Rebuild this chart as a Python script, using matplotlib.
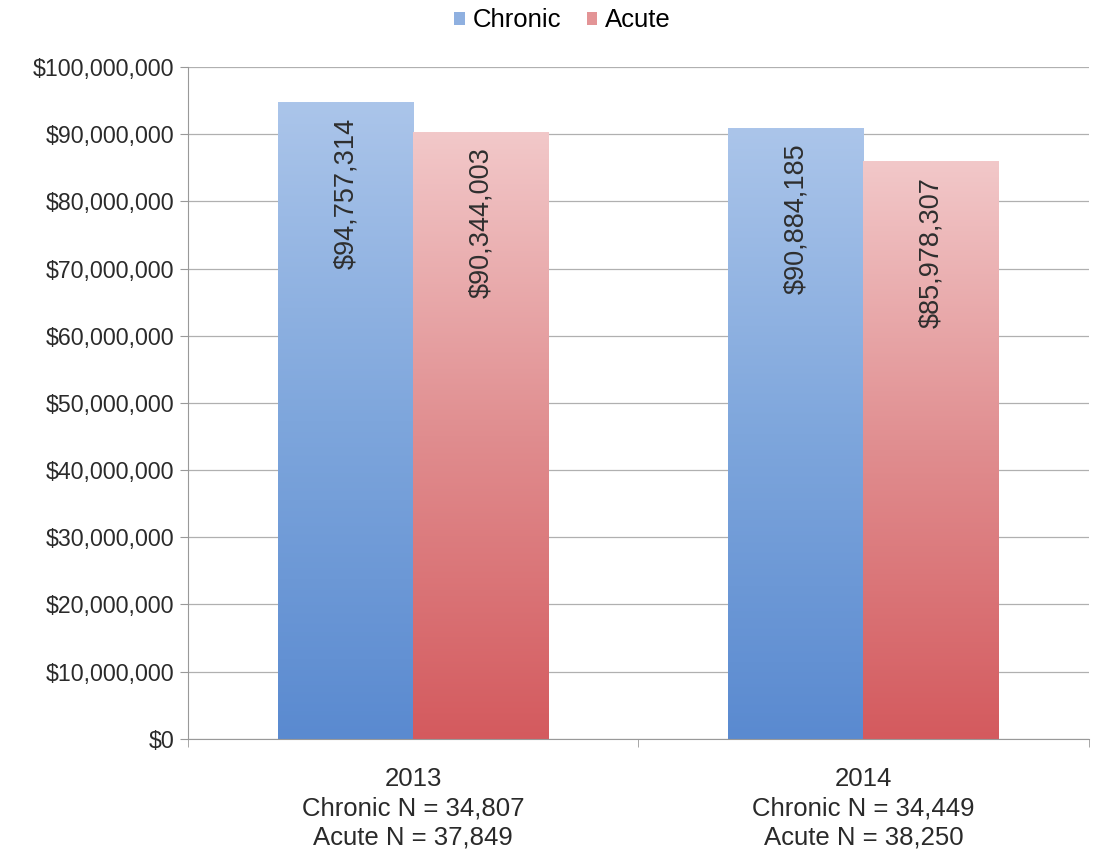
import numpy as np
import matplotlib.pyplot as plt
from matplotlib.colors import LinearSegmentedColormap
from matplotlib.ticker import FuncFormatter, MultipleLocator
from matplotlib.patches import Patch

plt.rcParams['font.family'] = ['Liberation Sans', 'DejaVu Sans']

years = ['2013', '2014']
chronic_cost = [94757314, 90884185]
acute_cost = [90344003, 85978307]
chronic_n = [34807, 34449]
acute_n = [37849, 38250]

fig = plt.figure(figsize=(10.94, 8.61), dpi=100)
ax = fig.add_axes([0.172, 0.142, 0.823, 0.78])

x = np.arange(len(years))
w = 0.3

# colour ramps, dark at the base, pale at the top
blue_cm = LinearSegmentedColormap.from_list('b', ['#5a8ad0', '#7ea6dc', '#abc5ea'])
red_cm = LinearSegmentedColormap.from_list('r', ['#d45a5e', '#e08d8f', '#f2c8c9'])

def grad_bars(xs, vals, cmap, label):
    bars = ax.bar(xs, vals, w, color='none', edgecolor='none', label=label, zorder=2)
    grad = np.linspace(0, 1, 256).reshape(-1, 1)
    for b in bars:
        x0, y0 = b.get_x(), b.get_y()
        im = ax.imshow(grad, extent=[x0, x0 + b.get_width(), y0, y0 + b.get_height()],
                       origin='lower', aspect='auto', cmap=cmap, zorder=2)
        im.set_clip_path(b)
    return bars

cb = grad_bars(x - w / 2, chronic_cost, blue_cm, 'Chronic')
ab = grad_bars(x + w / 2, acute_cost, red_cm, 'Acute')

for bars, vals in [(cb, chronic_cost), (ab, acute_cost)]:
    for b, v in zip(bars, vals):
        ax.text(b.get_x() + b.get_width() / 2, v - 2.3e6, '${:,}'.format(v),
                rotation=90, ha='center', va='top', fontsize=19.5, color='#2e2e2e', zorder=3)

ax.set_xlim(-0.5, 1.5)
ax.set_ylim(0, 100000000)
ax.yaxis.set_major_locator(MultipleLocator(10000000))
ax.yaxis.set_major_formatter(FuncFormatter(lambda v, p: '${:,.0f}'.format(v)))
ax.grid(axis='y', color='#b0b0b0', linewidth=0.9, zorder=0)
ax.set_axisbelow(True)

ax.set_xticks(x)
ax.set_xticklabels(['{}\nChronic N = {:,}\nAcute N = {:,}'.format(y, c, a)
                    for y, c, a in zip(years, chronic_n, acute_n)],
                   fontsize=18.5, color='#2a2a2a', linespacing=1.3)
ax.tick_params(axis='x', length=0, pad=20)
ax.tick_params(axis='y', labelsize=16.7, labelcolor='#2a2a2a', length=6, color='#999999', pad=4)
# minor ticks on x at the category boundaries
ax.set_xticks([-0.5, 0.5, 1.5], minor=True)
ax.tick_params(axis='x', which='minor', length=6, color='#999999')

for s in ['top', 'right']:
    ax.spines[s].set_visible(False)
for s in ['left', 'bottom']:
    ax.spines[s].set_color('#999999')

handles = [Patch(facecolor='#8fb0e0', label='Chronic'), Patch(facecolor='#e39496', label='Acute')]
fig.legend(handles=handles, loc='upper center', bbox_to_anchor=(0.514, 1.017), ncol=2, frameon=False,
           fontsize=18.5, handlelength=0.4, handleheight=0.4, handletextpad=0.3, columnspacing=1.0)

fig.savefig('out.png', dpi=100)
